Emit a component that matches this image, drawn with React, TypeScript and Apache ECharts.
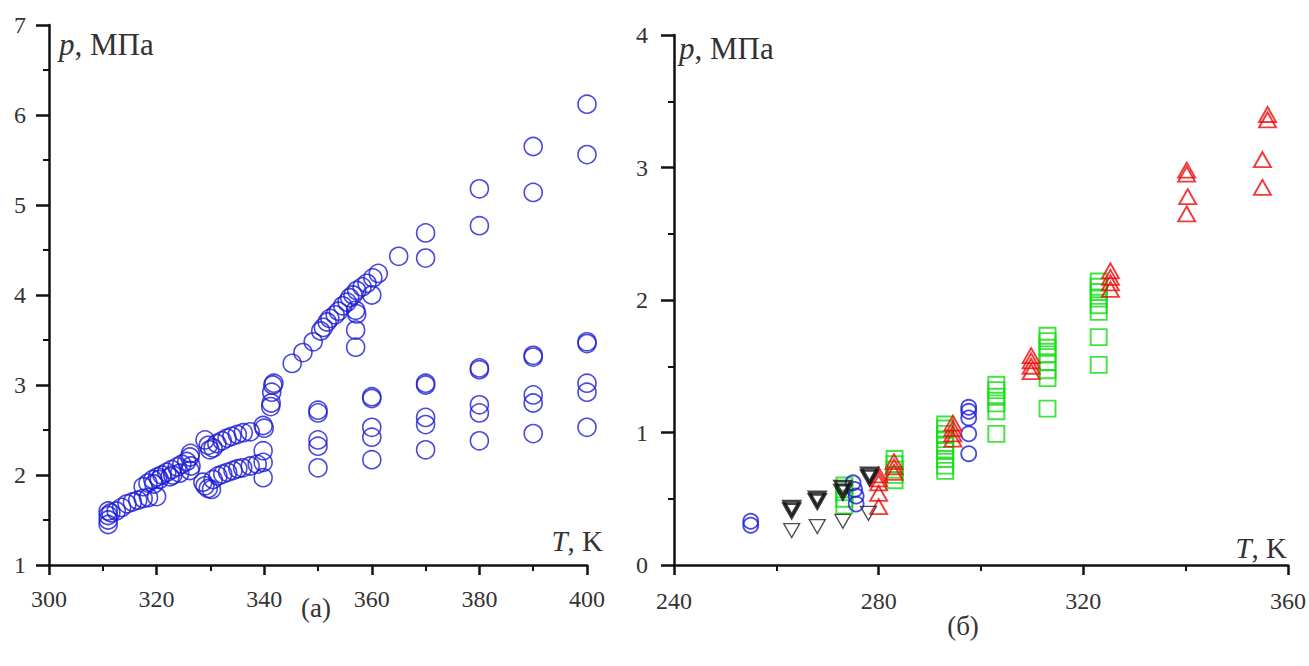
import React, { useEffect, useRef } from "react";
import * as echarts from "echarts";

// ---- Panel (а): blue circles, p (MPa) vs T (K) ----
const panelA_cluster311_326: [number, number][] = [
  [311, 1.45], [311, 1.5], [311, 1.55], [311, 1.6], [311.5, 1.58], [312.5, 1.6], [313.5, 1.64],
  [314.5, 1.68], [315.5, 1.7], [316.5, 1.72], [317.5, 1.74], [318.5, 1.75], [320, 1.76],
  [317.5, 1.87], [318.4, 1.91], [319.3, 1.95], [319.5, 1.9], [320.2, 1.98], [320.5, 1.95], [321, 2.0],
  [321.9, 2.03], [322.5, 1.98], [322.8, 2.06], [323, 2.0], [323.8, 2.09], [324.3, 2.02], [324.7, 2.12],
  [325.6, 2.15], [326.2, 2.2], [326.3, 2.24], [326.4, 2.1], [326.2, 2.05],
];
const panelA_upper329_340: [number, number][] = [
  [329, 2.39], [329.6, 2.33], [329.9, 2.28], [330.5, 2.3], [331.2, 2.35], [332.2, 2.38], [333.1, 2.41],
  [334, 2.43], [335, 2.45], [336.1, 2.47], [337.4, 2.48], [339.8, 2.55], [340, 2.52],
];
const panelA_lower329_340: [number, number][] = [
  [328.6, 1.92], [329, 1.88], [329.6, 1.85], [330.2, 1.84], [330.5, 1.95], [331.4, 1.99], [332.3, 2.01],
  [333.2, 2.03], [334.2, 2.05], [335.1, 2.07], [336, 2.08], [337.4, 2.1], [338.7, 2.12], [339.8, 2.14],
  [339.8, 2.27], [339.8, 1.97],
];
const panelA_step342: [number, number][] = [
  [341.6, 3.0], [341.8, 3.02], [341.4, 2.92], [341.3, 2.8], [341.2, 2.76],
];
const panelA_upperBranch: [number, number][] = [
  [345.2, 3.24], [347.2, 3.36], [349.1, 3.48], [350.5, 3.6], [351, 3.64], [351.7, 3.7], [352.2, 3.74],
  [353.2, 3.78], [353.8, 3.82], [354.6, 3.88], [355.4, 3.92], [355.9, 3.97], [356.5, 4.0], [357.2, 4.05],
  [358.2, 4.09], [359.1, 4.13], [360.2, 4.19], [361.2, 4.24], [357, 3.83], [357.2, 3.79], [357, 3.61],
  [357, 3.42], [360, 4.0], [365, 4.43], [370, 4.69], [370, 4.41], [380, 5.18], [380, 4.77],
  [390, 5.65], [390, 5.14], [400, 6.12], [400, 5.56],
];
const panelA_columnsT = [350, 360, 370, 380, 390, 400];
const panelA_columnsP = [
  [2.72, 2.69, 2.39, 2.32, 2.08],
  [2.87, 2.85, 2.53, 2.42, 2.17],
  [3.02, 3.0, 2.64, 2.56, 2.28],
  [3.19, 3.17, 2.78, 2.69, 2.38],
  [3.33, 3.31, 2.89, 2.8, 2.46],
  [3.48, 3.46, 3.02, 2.92, 2.53],
];

// ---- Panel (б) ----
const panelB_blueCircles: [number, number][] = [
  [255, 0.33], [255, 0.3], [275, 0.62], [275.3, 0.57], [275.6, 0.52], [275.6, 0.46],
  [297.6, 1.19], [297.6, 1.16], [297.6, 1.11], [297.6, 0.99], [297.6, 0.84],
];
const panelB_greenSquares: [number, number][] = [
  [273.3, 0.6], [273.3, 0.55], [273.3, 0.5], [273.3, 0.45],
  [283.1, 0.8], [283.1, 0.76], [283.1, 0.72], [283.1, 0.68], [283.1, 0.64],
  [293, 1.06], [293, 1.03], [293, 0.99], [293, 0.95], [293, 0.9], [293, 0.86], [293, 0.8], [293, 0.75], [293, 0.71],
  [303, 1.36], [303, 1.32], [303, 1.27], [303, 1.22], [303, 1.16], [303, 0.99],
  [313, 1.73], [313, 1.69], [313, 1.64], [313, 1.59], [313, 1.53], [313, 1.47], [313, 1.41], [313, 1.18],
  [323, 2.14], [323, 2.1], [323, 2.06], [323, 2.01], [323, 1.96], [323, 1.91], [323, 1.72], [323, 1.51],
];
const panelB_redTriangles: [number, number][] = [
  [280, 0.68], [280, 0.65], [280, 0.62], [280, 0.54], [280, 0.44],
  [283, 0.78], [283, 0.74], [283, 0.7],
  [294.5, 1.07], [294.5, 1.03], [294.5, 0.99], [294.5, 0.95],
  [309.8, 1.58], [309.8, 1.54], [309.8, 1.5], [309.8, 1.46],
  [325.3, 2.22], [325.3, 2.17], [325.3, 2.13], [325.3, 2.08],
  [340.2, 2.98], [340.2, 2.95], [340.4, 2.78], [340.2, 2.65],
  [356, 3.4], [356, 3.36], [355, 3.06], [355, 2.85],
];
const panelB_blackBold: [number, number][] = [
  [263, 0.43], [263, 0.41], [268, 0.5], [268, 0.48], [273, 0.58], [273, 0.55], [278.2, 0.68], [278.2, 0.66],
];
const panelB_blackThin: [number, number][] = [
  [263, 0.26], [268, 0.29], [273, 0.33], [278, 0.39],
];

const FONT = "'Liberation Serif', 'Times New Roman', 'DejaVu Serif', serif";
const AXIS_COLOR = "#111";
const LABEL_COLOR = "#333";

function axisCommon(labelMargin: number, tickLen: number) {
  return {
    type: "value" as const,
    axisLine: { show: true, onZero: false, lineStyle: { color: AXIS_COLOR, width: 2.5 } },
    axisTick: { show: true, length: tickLen, lineStyle: { color: AXIS_COLOR, width: 2.5 } },
    minorTick: { show: true, splitNumber: 2, length: 6, lineStyle: { color: AXIS_COLOR, width: 2 } },
    splitLine: { show: false },
    minorSplitLine: { show: false },
    axisLabel: { fontFamily: FONT, fontSize: 24, color: LABEL_COLOR, margin: labelMargin },
  };
}

export default function App() {
  const ref = useRef<HTMLDivElement>(null);
  useEffect(() => {
    if (!ref.current) return;
    const chart = echarts.init(ref.current, undefined, { renderer: "svg" });

    const aColumns: [number, number][] = [];
    panelA_columnsT.forEach((t, i) => panelA_columnsP[i].forEach((p) => aColumns.push([t, p])));
    const panelA = [
      ...panelA_cluster311_326,
      ...panelA_upper329_340,
      ...panelA_lower329_340,
      ...panelA_step342,
      ...panelA_upperBranch,
      ...aColumns,
    ];

    const circleStyle = (size: number, color: string, w: number) => ({
      symbol: "circle",
      symbolSize: size,
      itemStyle: { color: "rgba(0,0,0,0)", borderColor: color, borderWidth: w },
    });

    const nameText = (x: number, y: number, main: string, rest: string, align: string, size: number) => ({
      type: "text",
      x,
      y,
      style: {
        text: `{i|${main}}{n|${rest}}`,
        align,
        verticalAlign: "middle",
        fill: LABEL_COLOR,
        rich: {
          i: { fontFamily: FONT, fontSize: size, fontStyle: "italic", fill: LABEL_COLOR },
          n: { fontFamily: FONT, fontSize: size, fill: LABEL_COLOR },
        },
      },
    });

    chart.setOption({
      animation: false,
      backgroundColor: "#ffffff",
      grid: [
        { left: 49, top: 25, width: 538, height: 540 },
        { left: 674, top: 35, width: 615, height: 530 },
      ],
      xAxis: [
        { ...axisCommon(22, 10), gridIndex: 0, min: 300, max: 400, interval: 20 },
        { ...axisCommon(24, 10), gridIndex: 1, min: 240, max: 360, interval: 40 },
      ],
      yAxis: [
        { ...axisCommon(23, 13), gridIndex: 0, min: 1, max: 7, interval: 1 },
        { ...axisCommon(26, 13), gridIndex: 1, min: 0, max: 4, interval: 1 },
      ],
      series: [
        {
          type: "scatter", xAxisIndex: 0, yAxisIndex: 0, clip: false,
          data: panelA, ...circleStyle(18, "#1c1cd6", 1.6),
        },
        {
          type: "scatter", xAxisIndex: 1, yAxisIndex: 1, clip: false,
          data: panelB_greenSquares, symbol: "rect", symbolSize: 16,
          itemStyle: { color: "rgba(0,0,0,0)", borderColor: "#10dd10", borderWidth: 1.9 },
        },
        {
          type: "scatter", xAxisIndex: 1, yAxisIndex: 1, clip: false,
          data: panelB_blueCircles, ...circleStyle(15, "#1c1cd6", 1.8),
        },
        {
          type: "scatter", xAxisIndex: 1, yAxisIndex: 1, clip: false,
          data: panelB_redTriangles, symbol: "triangle", symbolSize: [17, 15],
          itemStyle: { color: "rgba(0,0,0,0)", borderColor: "#ee0a0a", borderWidth: 1.9 },
        },
        {
          type: "scatter", xAxisIndex: 1, yAxisIndex: 1, clip: false,
          data: panelB_blackBold, symbol: "triangle", symbolRotate: 180, symbolSize: [16, 14],
          itemStyle: { color: "rgba(0,0,0,0)", borderColor: "#111111", borderWidth: 2.8 },
        },
        {
          type: "scatter", xAxisIndex: 1, yAxisIndex: 1, clip: false,
          data: panelB_blackThin, symbol: "triangle", symbolRotate: 180, symbolSize: [16, 14],
          itemStyle: { color: "rgba(0,0,0,0)", borderColor: "#222222", borderWidth: 1.3 },
        },
      ],
      graphic: [
        nameText(59, 44, "p", ", МПа", "left", 31),
        nameText(603, 541, "T", ", K", "right", 29),
        nameText(679, 48, "p", ", МПа", "left", 31),
        nameText(1287, 548, "T", ", K", "right", 29),
        {
          type: "text", x: 316, y: 608,
          style: { text: "(а)", fontFamily: FONT, fontSize: 27, fill: LABEL_COLOR, align: "center", verticalAlign: "middle" },
        },
        {
          type: "text", x: 963, y: 626,
          style: { text: "(б)", fontFamily: FONT, fontSize: 27, fill: LABEL_COLOR, align: "center", verticalAlign: "middle" },
        },
      ],
    });
    return () => chart.dispose();
  }, []);

  return (
    <div
      ref={ref}
      style={{ position: "absolute", left: 0, top: 0, width: 1309, height: 666, background: "#fff" }}
    />
  );
}
